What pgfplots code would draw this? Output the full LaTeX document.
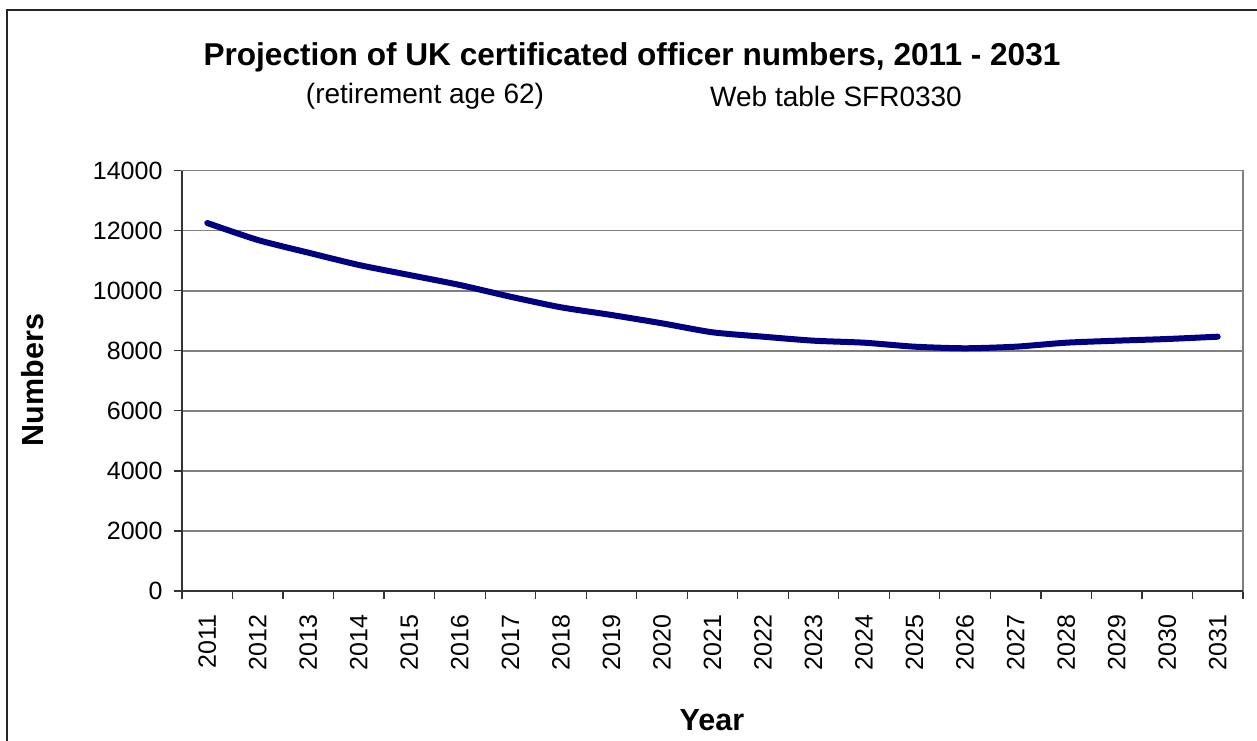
\documentclass[border=0pt]{standalone}
\usepackage{fontspec}
\setmainfont{Liberation Sans}
\usepackage{pgfplots}
\pgfplotsset{compat=1.18}
\definecolor{navyline}{HTML}{000080}
\begin{document}
\begin{tikzpicture}[x=1pt,y=1pt]
\useasboundingbox (0,0) rectangle (1257,740);
\fill[white] (0,0) rectangle (1257,740);
\draw[line width=1.5pt, black!85] (7,-20) rectangle (1290,730);
\node[font=\bfseries\fontsize{31.6}{31.6}\selectfont] at (632,683) {Projection of UK certificated officer numbers, 2011 - 2031};
\node[font=\fontsize{28}{28}\selectfont] at (425,644) {(retirement age 62)};
\node[font=\fontsize{28}{28}\selectfont] at (836,644) {Web table SFR0330};
\begin{axis}[
  at={(182pt,149pt)}, anchor=south west,
  scale only axis, width=1061pt, height=420.3pt,
  xmin=-0.5, xmax=20.5, ymin=0, ymax=14000,
  xtick={0,...,20},
  xticklabels={2011,2012,2013,2014,2015,2016,2017,2018,2019,2020,2021,2022,2023,2024,2025,2026,2027,2028,2029,2030,2031},
  major x tick style={draw=none},
  minor xtick={-0.5,0.5,...,20.5},
  minor tick length=8pt,
  xtick pos=bottom, ytick pos=left,
  ytick={0,2000,...,14000},
  major tick length=8pt,
  tick align=outside,
  tick style={black!80, line width=1.2pt},
  ymajorgrids,
  major grid style={gray, line width=1.5pt},
  axis line style={draw=gray, line width=1.5pt},
  /pgf/number format/assume math mode=true,
  scaled y ticks=false,
  y tick label style={font=\fontsize{25}{25}\selectfont, /pgf/number format/1000 sep={}, xshift=-8pt},
  x tick label style={font=\fontsize{25}{25}\selectfont, rotate=90, anchor=east, xshift=-12pt},
  xlabel={Year},
  ylabel={Numbers},
  xlabel style={font=\bfseries\fontsize{30.5}{30.5}\selectfont, at={(axis description cs:0.4995,-0.307)}, anchor=center},
  ylabel style={font=\bfseries\fontsize{30.5}{30.5}\selectfont, at={(axis description cs:-0.1404,0.502)}, anchor=center, rotate=0},
  clip=false,
]
\addplot[navyline, line width=6pt, smooth, tension=0.4, line cap=round] coordinates {
(0,12258) (1,11692) (2,11270) (3,10860) (4,10526) (5,10193) (6,9803) (7,9450)
(8,9194) (9,8917) (10,8617) (11,8471) (12,8338) (13,8271) (14,8138) (15,8085)
(16,8138) (17,8271) (18,8338) (19,8394) (20,8471)
};
\draw[black!80, line width=1.5pt] (rel axis cs:0,1) -- (rel axis cs:0,0) -- (rel axis cs:1,0);
\end{axis}
\end{tikzpicture}
\end{document}
